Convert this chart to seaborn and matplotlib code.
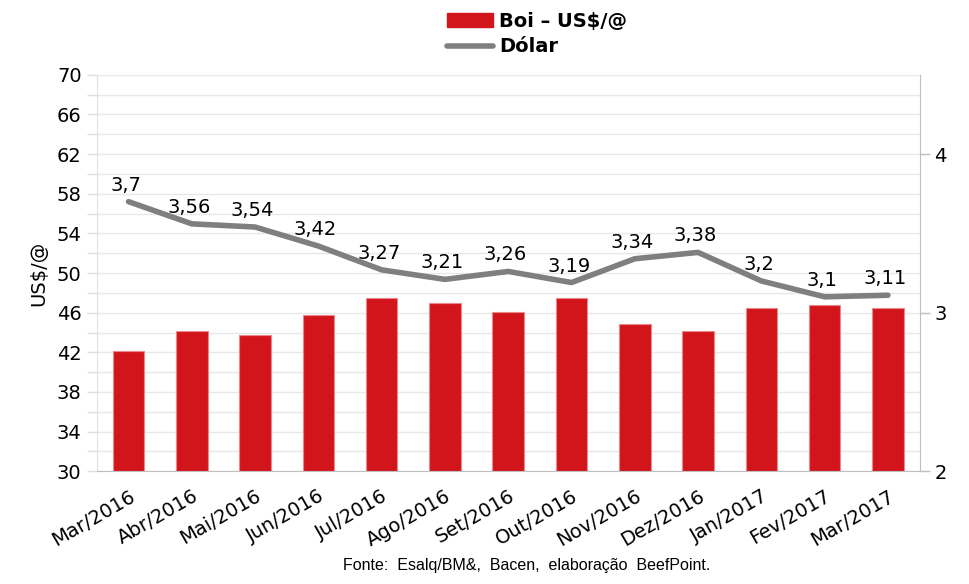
import numpy as np
import pandas as pd
import matplotlib
matplotlib.use("Agg")
from matplotlib import pyplot as plt
from matplotlib.ticker import FixedLocator, MultipleLocator
from matplotlib.patches import Patch
from matplotlib.lines import Line2D
import seaborn as sns

months = ['Mar/2016', 'Abr/2016', 'Mai/2016', 'Jun/2016', 'Jul/2016', 'Ago/2016',
          'Set/2016', 'Out/2016', 'Nov/2016', 'Dez/2016', 'Jan/2017', 'Fev/2017',
          'Mar/2017']
boi_usd = [42.1, 44.2, 43.7, 45.8, 47.5, 47.0, 46.1, 47.5, 44.9, 44.2, 46.5, 46.8, 46.5]
dolar = [3.70, 3.56, 3.54, 3.42, 3.27, 3.21, 3.26, 3.19, 3.34, 3.38, 3.20, 3.10, 3.11]
dolar_labels = ['3,7', '3,56', '3,54', '3,42', '3,27', '3,21', '3,26', '3,19',
                '3,34', '3,38', '3,2', '3,1', '3,11']
left_ticks = list(range(30, 71, 4))
right_ticks = [2, 3, 4]

RED = '#d2151b'
GREY = '#7f7f7f'
AXIS = '#bfbfbf'

sns.set_style('white')
plt.rcParams['font.family'] = ['DejaVu Sans']
plt.rcParams['text.color'] = 'black'
plt.rcParams['xtick.color'] = 'black'
plt.rcParams['ytick.color'] = 'black'
plt.rcParams['axes.labelcolor'] = 'black'

df = pd.DataFrame({'mes': months, 'boi': boi_usd, 'dolar': dolar,
                   'pos': np.arange(len(months))})

fig = plt.figure(figsize=(9.69, 5.84), dpi=100)
ax = fig.add_axes([0.100, 0.193, 0.849, 0.679])

# bars: Boi in US$/@ on the left axis
sns.barplot(data=df, x='mes', y='boi', color=RED, width=0.5, saturation=1,
            edgecolor='#e8888b', linewidth=0.8, ax=ax, zorder=2)
ax.set_ylim(30, 70)
ax.set_xlim(-0.5, len(months) - 0.5)
ax.yaxis.set_major_locator(FixedLocator(left_ticks))
ax.yaxis.set_minor_locator(MultipleLocator(2))
ax.grid(axis='y', which='both', color='#e8e8e8', linewidth=1, zorder=0)
ax.set_axisbelow(True)
ax.xaxis.set_major_locator(FixedLocator(np.arange(len(months))))
ax.set_xticklabels(months, rotation=30, ha='right', rotation_mode='anchor',
                   fontsize=14)
ax.xaxis.set_minor_locator(FixedLocator(np.arange(len(months) + 1) - 0.5))
ax.tick_params(axis='x', which='major', length=0, pad=11)
ax.tick_params(axis='x', which='minor', length=8, color=AXIS, width=1,
               direction='out')
ax.tick_params(axis='y', which='both', length=7, color='#e0e0e0', width=1,
               direction='out', labelsize=14, pad=4)
ax.set_ylabel('US$/@', fontsize=14, labelpad=6)
ax.set_xlabel('')
for s in ['top', 'right']:
    ax.spines[s].set_visible(False)
ax.spines['bottom'].set_color(AXIS)
ax.spines['left'].set_color('#e0e0e0')

# line: dollar rate on the right axis
ax2 = ax.twinx()
sns.lineplot(data=df, x='pos', y='dolar', color=GREY, linewidth=4, ax=ax2,
             zorder=3)
ax2.set_ylim(2, 4.5)
ax2.yaxis.set_major_locator(FixedLocator(right_ticks))
ax2.tick_params(axis='y', length=7, color=AXIS, width=1, direction='out',
                labelsize=14)
ax2.set_ylabel('')
ax2.set_xlabel('')
for s in ['top', 'left', 'bottom']:
    ax2.spines[s].set_visible(False)
ax2.spines['right'].set_color(AXIS)
ax2.set_xlim(-0.5, len(months) - 0.5)

for xp, yv, lab in zip(df['pos'], df['dolar'], dolar_labels):
    ax2.annotate(lab, (xp, yv), xytext=(-2, 5), textcoords='offset points',
                 ha='center', va='bottom', fontsize=14,
                 family=['Liberation Sans Narrow', 'DejaVu Sans'])

handles = [Patch(facecolor=RED, edgecolor=RED),
           Line2D([], [], color=GREY, linewidth=4)]
leg = fig.legend(handles, ['Boi – US$/@', 'Dólar'], loc='upper left',
                 bbox_to_anchor=(0.443, 1.01), frameon=False, ncol=1,
                 prop={'size': 14, 'weight': 'bold'}, handlelength=2.4,
                 handletextpad=0.3, labelspacing=0.35)

fig.text(0.544, 0.018, 'Fonte:  Esalq/BM&,  Bacen,  elaboração  BeefPoint.',
         ha='center', va='bottom', fontsize=11.5,
         family=['Liberation Sans', 'DejaVu Sans'])

plt.savefig('out.png', dpi=100)
plt.close()
